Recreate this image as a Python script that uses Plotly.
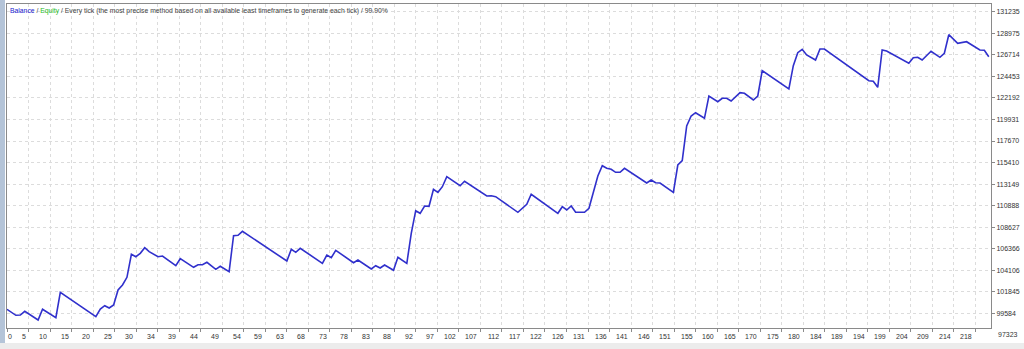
import plotly.graph_objects as go

# ---------------- data ----------------
trades = [0, 2, 3, 4, 7, 8, 11, 12, 20, 21, 22, 23, 24, 25, 26, 27, 28, 29, 30, 31,
          32, 34, 35, 38, 39, 42, 43, 44, 45, 47, 48, 50, 51, 52, 53, 63, 64, 65, 66, 71,
          72, 73, 74, 78, 79, 82, 83, 84, 85, 87, 88, 90, 91, 92, 93, 94, 95, 96, 97, 98,
          99, 102, 103, 108, 109, 110, 115, 116, 117, 118, 124, 125, 126, 127, 128, 130, 131, 133, 134, 135,
          136, 137, 138, 139, 144, 145, 146, 147, 150, 151, 152, 153, 154, 155, 157, 158, 160, 161, 162, 163,
          165, 166, 168, 169, 170, 176, 177, 178, 179, 180, 182, 183, 184, 194, 195, 196, 197, 198, 203, 204,
          205, 206, 208, 210, 211, 212, 214, 216, 219, 220, 221]

balance = [100000, 99374, 99400, 99794, 98881, 100004, 99122, 101788, 99227, 100035,
           100382, 100140, 100455, 102030, 102555, 103363, 105777, 105525, 105882, 106470,
           106050, 105525, 105599, 104581, 105315, 104413, 104686, 104686, 104937, 104203,
           104518, 103951, 107730, 107772, 108192, 105074, 106302, 105987, 106407, 104833,
           105704, 105420, 106197, 104896, 105179, 104234, 104581, 104339, 104654, 104098,
           105462, 104833, 107982, 110354, 110081, 110847, 110816, 112600, 112285, 112873,
           113923, 112978, 113440, 111897, 111928, 111823, 110186, 110606, 111025, 112075,
           110081, 110774, 110427, 110847, 110186, 110186, 110606, 113996, 115077, 114805,
           114700, 114385, 114385, 114805, 113262, 113577, 113293, 113262, 112285, 115151,
           115603, 119245, 120294, 120641, 120053, 122394, 121795, 122153, 122153, 121869,
           122740, 122677, 121974, 122394, 125050, 123129, 125575, 126939, 127296, 126698,
           126173, 127327, 127327, 123999, 123950, 123307, 127223, 127118, 125827, 126415,
           126457, 126173, 127086, 126457, 126876, 128829, 127926, 128093, 127223, 127192,
           126519]

y_tick_values = [97323, 99584, 101845, 104106, 106366, 108627, 110888, 113149,
                 115410, 117670, 119931, 122192, 124453, 126714, 128975, 131235]

x_tick_labels = ["0", "5", "10", "15", "20", "25", "30", "34", "39", "44", "49", "54",
                 "59", "63", "68", "73", "78", "83", "88", "92", "97", "102", "107",
                 "112", "117", "122", "126", "131", "136", "141", "146", "151", "155",
                 "160", "165", "170", "175", "180", "184", "189", "194", "199", "204",
                 "209", "214", "218"]

title_parts = ["Balance", "Equity",
               "Every tick (the most precise method based on all available least timeframes to generate each tick)",
               "99.90%"]

# ---------------- layout constants ----------------
W, H = 1024, 349
ML, MR, MT, MB = 7, 33, 4, 21
PW, PH = W - ML - MR, H - MT - MB
X_STEP = 4.844
X_RANGE = [0, 221.5]
Y_RANGE = [98041, 132051]
FONT = "Liberation Sans, Arial, sans-serif"
LABEL_COLOR = "#333333"
GRID_COLOR = "#dcdcdc"
FRAME_COLOR = "#8a8a8a"

fig = go.Figure()
fig.add_trace(go.Scatter(
    x=trades, y=balance, mode="lines",
    line=dict(color="#3030cc", width=1.6),
    hoverinfo="skip", showlegend=False,
))

x_grid = [i * X_STEP for i in range(len(x_tick_labels))]
y_in = [v for v in y_tick_values if Y_RANGE[0] <= v <= Y_RANGE[1]]

fig.update_xaxes(
    range=X_RANGE, tickmode="array", tickvals=x_grid, showticklabels=False,
    ticks="outside", ticklen=3, tickcolor=FRAME_COLOR,
    showgrid=True, gridcolor=GRID_COLOR, griddash="dot", gridwidth=1,
    showline=True, linecolor=FRAME_COLOR, linewidth=1, mirror=True, zeroline=False,
)
fig.update_yaxes(
    range=Y_RANGE, side="right", tickmode="array", tickvals=y_in,
    ticktext=[str(v) for v in y_in],
    ticks="outside", ticklen=3, tickcolor=FRAME_COLOR,
    tickfont=dict(family=FONT, size=7, color=LABEL_COLOR),
    showgrid=True, gridcolor=GRID_COLOR, griddash="dot", gridwidth=1,
    showline=True, linecolor=FRAME_COLOR, linewidth=1, mirror=True, zeroline=False,
)

annotations = []
# x tick labels (right-aligned to their grid line, first one left-aligned)
for i, lab in enumerate(x_tick_labels):
    annotations.append(dict(
        x=x_grid[i], xref="x", y=0, yref="paper", yanchor="top",
        xanchor="left" if i == 0 else "right", xshift=-1, yshift=-3,
        text=lab, showarrow=False,
        font=dict(family=FONT, size=7, color=LABEL_COLOR),
    ))
# y tick labels below the plot bottom
for v in y_tick_values:
    if v < Y_RANGE[0]:
        yp = (v - Y_RANGE[0]) / (Y_RANGE[1] - Y_RANGE[0])
        annotations.append(dict(
            x=1, xref="paper", xanchor="left", xshift=5, y=yp, yref="paper",
            yanchor="middle", text=str(v), showarrow=False,
            font=dict(family=FONT, size=7, color=LABEL_COLOR),
        ))
# header text
header = ("<span style='color:#2020d0'>%s</span> / <span style='color:#22bb22'>%s</span> / %s / %s"
          % tuple(title_parts))
annotations.append(dict(
    x=0, xref="paper", xanchor="left", xshift=1, y=1, yref="paper", yanchor="top",
    yshift=-1, text=header, showarrow=False,
    font=dict(family=FONT, size=6.8, color="#444444"),
))

shapes = [
    # left window strip
    dict(type="rect", xref="paper", yref="paper",
         x0=-ML / PW, x1=-2 / PW, y0=-MB / PH, y1=1 + MT / PH,
         fillcolor="#b4c4d8", line=dict(width=0), layer="below"),
    # bottom window chrome
    dict(type="rect", xref="paper", yref="paper",
         x0=-ML / PW, x1=1 + MR / PW, y0=-MB / PH, y1=-(MB - 6) / PH,
         fillcolor="#ececec", line=dict(width=0), layer="below"),
]

fig.update_layout(
    width=W, height=H, margin=dict(l=ML, r=MR, t=MT, b=MB, pad=0),
    paper_bgcolor="white", plot_bgcolor="white",
    annotations=annotations, shapes=shapes, showlegend=False,
)

fig.write_html("out.html")
